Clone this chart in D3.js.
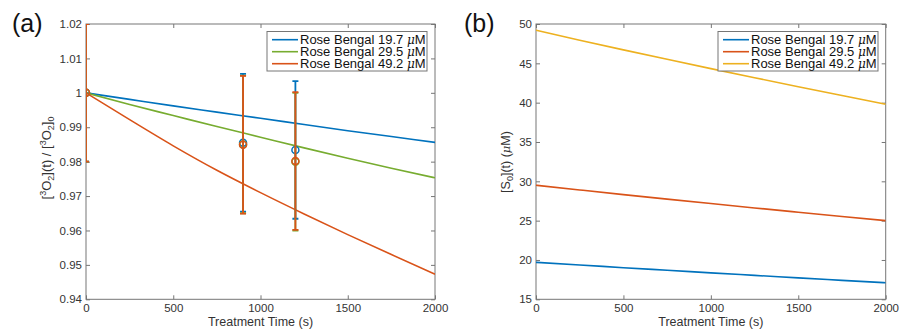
<!DOCTYPE html>
<html>
<head>
<meta charset="utf-8">
<script src="https://cdn.jsdelivr.net/npm/d3@7"></script>
<style>
  body { margin: 0; background: #fff; }
  svg { display: block; font-family: "Liberation Sans", Arial, Helvetica, sans-serif; }
</style>
</head>
<body>
<svg id="chart" width="901" height="333"></svg>
<script>
// model curves, sampled every 250 s
const timeGrid = [0, 250, 500, 750, 1000, 1250, 1500, 1750, 2000];
const o2Rb197 = [1, 0.9981, 0.9962, 0.9944, 0.9926, 0.9908, 0.9890, 0.9873, 0.9856];
const o2Rb295 = [1, 0.9966, 0.9934, 0.9902, 0.9871, 0.9840, 0.9810, 0.9781, 0.9753];
const o2Rb492 = [1, 0.9922, 0.9846, 0.9775, 0.9710, 0.9648, 0.9588, 0.9530, 0.9473];

// measured points with error bars
const measTime = [0, 900, 1200];
const measRb197 = [1, 0.9855, 0.9834];
const measRb295 = [1, 0.9850, 0.9800];
const measRb492 = [1, 0.9849, 0.9802];
const errRb197 = [0.02, 0.02, 0.02];
const errRb295 = [0.02, 0.02, 0.02];
const errRb492 = [0.02, 0.02, 0.02];

// sensitizer concentration (panel b)
const s0Rb197 = [19.7, 19.36, 19.02, 18.69, 18.36, 18.04, 17.72, 17.41, 17.1];
const s0Rb295 = [29.5, 28.9, 28.31, 27.735, 27.17, 26.615, 26.07, 25.53, 25.0];
const s0Rb492 = [49.2, 47.94, 46.71, 45.51, 44.33, 43.17, 42.03, 40.91, 39.8];

const legendLabels = ['Rose Bengal 19.7 ', 'Rose Bengal 29.5 ', 'Rose Bengal 49.2 '];
const xTicks = [0, 500, 1000, 1500, 2000];
const yTicksA = [0.94, 0.95, 0.96, 0.97, 0.98, 0.99, 1, 1.01, 1.02];
const yTicksB = [15, 20, 25, 30, 35, 40, 45, 50];

const blue = '#0072BD', orange = '#D95319', yellow = '#EDB120', green = '#77AC30';
const axisCol = '#767676', textCol = '#333';

const svg = d3.select('#chart');
svg.append('rect').attr('width', 901).attr('height', 333).attr('fill', '#fff');

const plotTop = 24, plotBottom = 299.3;

function makePanel(id, left, right, yDomain, yTicks, fmt) {
  const x = d3.scaleLinear().domain([0, 2000]).range([left, right]);
  const y = d3.scaleLinear().domain(yDomain).range([plotBottom, plotTop]);
  const g = svg.append('g');

  g.append('clipPath').attr('id', 'clip-' + id)
    .append('rect').attr('x', left).attr('y', plotTop)
    .attr('width', right - left).attr('height', plotBottom - plotTop);

  const style = sel => {
    sel.select('.domain').remove();
    sel.selectAll('line').attr('stroke', axisCol);
    sel.selectAll('text').attr('fill', textCol).style('font-size', '11.5px');
  };

  g.append('g').attr('transform', `translate(0,${plotBottom})`)
    .call(d3.axisBottom(x).tickValues(xTicks).tickSizeInner(-4).tickSizeOuter(0).tickPadding(4.5).tickFormat(d3.format('d')))
    .call(style);
  g.append('g').attr('transform', `translate(0,${plotTop})`)
    .call(d3.axisTop(x).tickValues(xTicks).tickSizeInner(-4).tickSizeOuter(0).tickFormat(''))
    .call(style);
  g.append('g').attr('transform', `translate(${left},0)`)
    .call(d3.axisLeft(y).tickValues(yTicks).tickSizeInner(-4).tickSizeOuter(0).tickPadding(4).tickFormat(fmt))
    .call(style);
  g.append('g').attr('transform', `translate(${right},0)`)
    .call(d3.axisRight(y).tickValues(yTicks).tickSizeInner(-4).tickSizeOuter(0).tickFormat(''))
    .call(style);

  g.append('rect').attr('x', left).attr('y', plotTop)
    .attr('width', right - left).attr('height', plotBottom - plotTop)
    .attr('fill', 'none').attr('stroke', axisCol).attr('stroke-width', 1);

  g.append('text').attr('x', (left + right) / 2).attr('y', 326)
    .attr('text-anchor', 'middle').attr('fill', textCol).style('font-size', '12.5px')
    .text('Treatment Time (s)');

  const plot = g.append('g').attr('clip-path', `url(#clip-${id})`);
  return { x, y, g, plot };
}

function drawCurve(p, values, color) {
  const line = d3.line().x((d, i) => p.x(timeGrid[i])).y(d => p.y(d)).curve(d3.curveMonotoneX);
  p.plot.append('path').datum(values)
    .attr('d', line).attr('fill', 'none').attr('stroke', color).attr('stroke-width', 1.6);
}

function drawErrors(p, vals, errs, color) {
  const pts = measTime.map((t, i) => ({ t, v: vals[i], e: errs[i] }));
  const eg = p.plot.append('g').attr('stroke', color).attr('fill', 'none').attr('stroke-width', 1.8);
  pts.forEach(d => {
    const cx = p.x(d.t);
    eg.append('line').attr('x1', cx).attr('x2', cx)
      .attr('y1', p.y(d.v - d.e)).attr('y2', p.y(d.v + d.e));
    [d.v - d.e, d.v + d.e].forEach(c => {
      eg.append('line').attr('x1', cx - 3).attr('x2', cx + 3)
        .attr('y1', p.y(c)).attr('y2', p.y(c));
    });
    eg.append('circle').attr('cx', cx).attr('cy', p.y(d.v)).attr('r', 3.5).attr('stroke-width', 1.5);
  });
}

function drawLegend(p, x0, x1, colors) {
  const lg = p.g.append('g');
  lg.append('rect').attr('x', x0).attr('y', 31.5).attr('width', x1 - x0).attr('height', 39.5)
    .attr('fill', '#fff').attr('stroke', axisCol).attr('stroke-width', 1);
  colors.forEach((c, i) => {
    const yy = 39.7 + i * 12;
    lg.append('line').attr('x1', x0 + 5).attr('x2', x0 + 31).attr('y1', yy).attr('y2', yy)
      .attr('stroke', c).attr('stroke-width', 1.6);
    const t = lg.append('text').attr('x', x0 + 33).attr('y', yy + 4.5)
      .attr('fill', '#111').style('font-size', '13px');
    t.append('tspan').text(legendLabels[i]);
    t.append('tspan').attr('font-style', 'italic').attr('font-family', '"DejaVu Serif", serif').style('font-size', '12px').text('\u03bc');
    t.append('tspan').text('M');
  });
}

// panel (a)
const pa = makePanel('a', 86, 435, [0.94, 1.02], yTicksA, d => String(+d.toFixed(2)));
drawCurve(pa, o2Rb197, blue);
drawCurve(pa, o2Rb295, green);
drawCurve(pa, o2Rb492, orange);
drawErrors(pa, measRb197, errRb197, blue);
drawErrors(pa, measRb295, errRb295, green);
drawErrors(pa, measRb492, errRb492, orange);
drawLegend(pa, 267, 427, [blue, green, orange]);

const ylA = pa.g.append('text').attr('transform', 'translate(51,158) rotate(-90)')
  .attr('text-anchor', 'middle').attr('fill', textCol).style('font-size', '13px');
ylA.append('tspan').text('[');
ylA.append('tspan').attr('dy', -5).style('font-size', '9px').text('3');
ylA.append('tspan').attr('dy', 5).text('O');
ylA.append('tspan').attr('dy', 3).style('font-size', '9px').text('2');
ylA.append('tspan').attr('dy', -3).text('](t) / [');
ylA.append('tspan').attr('dy', -5).style('font-size', '9px').text('3');
ylA.append('tspan').attr('dy', 5).text('O');
ylA.append('tspan').attr('dy', 3).style('font-size', '9px').text('2');
ylA.append('tspan').attr('dy', -3).text(']');
ylA.append('tspan').attr('dy', 3).style('font-size', '9px').text('0');

// panel (b)
const pb = makePanel('b', 536, 885.7, [15, 50], yTicksB, d => d);
drawCurve(pb, s0Rb197, blue);
drawCurve(pb, s0Rb295, orange);
drawCurve(pb, s0Rb492, yellow);
drawLegend(pb, 718, 878, [blue, orange, yellow]);

const ylB = pb.g.append('text').attr('transform', 'translate(510,162) rotate(-90)')
  .attr('text-anchor', 'middle').attr('fill', textCol).style('font-size', '12.5px');
ylB.append('tspan').text('[S');
ylB.append('tspan').attr('dy', 3).style('font-size', '9px').text('0');
ylB.append('tspan').attr('dy', -3).text('](t) (');
ylB.append('tspan').attr('font-style', 'italic').attr('font-family', '"DejaVu Serif", serif').style('font-size', '11.5px').text('\u03bc');
ylB.append('tspan').text('M)');

// panel letters
svg.append('text').attr('x', 12).attr('y', 32).style('font-size', '25px').attr('fill', '#111').text('(a)');
svg.append('text').attr('x', 464).attr('y', 32).style('font-size', '25px').attr('fill', '#111').text('(b)');
</script>
</body>
</html>
